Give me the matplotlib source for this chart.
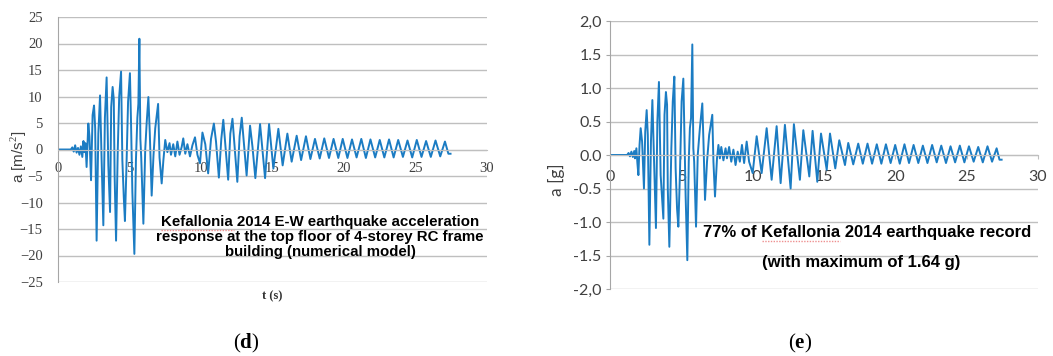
import numpy as np
import matplotlib.pyplot as plt
from matplotlib.lines import Line2D

plt.rcParams['mathtext.fontset'] = 'custom'
plt.rcParams['mathtext.rm'] = 'Liberation Serif'
plt.rcParams['mathtext.bf'] = 'Liberation Serif:bold'

# (d) numerical model response, peaks/troughs [s], [m/s2]
t_d = [0.0, 0.9, 1.0, 1.1, 1.2, 1.3, 1.4, 1.5, 1.6, 1.7,
       1.78, 1.85, 1.92, 2.0, 2.12, 2.2, 2.31, 2.42, 2.52, 2.6,
       2.7, 2.82, 2.94, 3.05, 3.17, 3.28, 3.4, 3.52, 3.64, 3.72,
       3.82, 3.9, 3.96, 4.06, 4.18, 4.28, 4.41, 4.5, 4.6, 4.68,
       4.78, 4.9, 5.03, 5.1, 5.2, 5.34, 5.45, 5.55, 5.62, 5.69,
       5.76, 5.82, 5.97, 6.1, 6.2, 6.32, 6.42, 6.55, 6.68, 6.8,
       7.0, 7.1, 7.25, 7.37, 7.5, 7.65, 7.8, 7.9, 8.06, 8.2,
       8.35, 8.5, 8.65, 8.76, 8.9, 9.05, 9.23, 9.4, 9.58, 9.75,
       9.93, 10.1, 10.3, 10.5, 10.7, 10.9, 11.05, 11.25, 11.42, 11.56,
       11.9, 12.05, 12.2, 12.54, 12.7, 12.85, 13.19, 13.43, 13.6, 13.8,
       14.13, 14.48, 14.76, 15.06, 15.41, 15.71, 16.04, 16.34, 16.69, 17.0,
       17.34, 17.65, 17.97, 18.3, 18.62, 18.95, 19.27, 19.6, 19.91, 20.24,
       20.56, 20.88, 21.21, 21.53, 21.85, 22.18, 22.5, 22.82, 23.15, 23.47,
       23.79, 24.12, 24.44, 24.77, 25.09, 25.42, 25.74, 26.07, 26.4, 26.73,
       27.06, 27.3, 27.45]
acc_d = [0, 0, 0.4, -0.4, 0.8, -0.6, 0.3, -1.0, 0.6, -1.4,
         1.6, -0.5, 1.2, -3.3, 4.9, 2.5, -5.8, 6.5, 8.3, 4.0,
         -17.2, 3.0, 10.2, -2.0, -14.3, 6.0, 13.6, -3.0, -11.8, 8.0,
         11.8, 9.5, -5.0, -17.2, 0.0, 10.0, 14.7, -2.0, -9.0, -13.5,
         -4.0, 9.0, 14.4, 6.0, -8.0, -19.7, -2.0, 6.0, 8.6, 20.9,
         2.0, -1.5, -14.0, 0.0, 5.0, 9.9, 3.0, -8.7, -1.0, 4.0,
         8.6, -1.5, -6.4, -2.0, 1.8, -0.5, 1.2, -1.0, 1.0, -1.3,
         1.5, -1.0, 0.5, 2.1, -0.8, 1.0, -1.3, 0.8, 2.3, -1.0,
         -2.6, 3.2, 1.0, -4.5, 2.0, 4.9, 1.5, -5.3, 2.0, 5.6,
         -5.7, 3.0, 5.8, -6.1, 2.5, 6.0, -4.9, 4.5, 0.5, -5.4,
         4.8, -5.4, 4.8, -3.6, 3.9, -3.0, 3.0, -2.3, 2.6, -2.0,
         2.5, -1.8, 2.0, -1.7, 2.1, -1.6, 2.0, -1.6, 2.0, -1.6,
         1.9, -1.5, 2.0, -1.6, 1.9, -1.5, 1.8, -1.5, 1.9, -1.5,
         1.8, -1.4, 1.7, -1.5, 1.8, -1.4, 1.6, -1.4, 1.7, -1.3,
         1.5, -0.8, -0.8]

# (e) 77% of the record, [s], [g]
t_e = [0.0, 1.2, 1.3, 1.4, 1.5, 1.6, 1.7, 1.75, 1.85, 1.92,
       1.99, 2.07, 2.15, 2.25, 2.38, 2.47, 2.57, 2.65, 2.76, 2.87,
       2.97, 3.1, 3.22, 3.32, 3.43, 3.55, 3.74, 3.82, 3.92, 4.0,
       4.05, 4.16, 4.3, 4.4, 4.51, 4.6, 4.7, 4.79, 4.9, 5.02,
       5.14, 5.22, 5.3, 5.42, 5.52, 5.6, 5.68, 5.77, 5.84, 5.9,
       6.03, 6.15, 6.3, 6.47, 6.55, 6.66, 6.8, 6.95, 7.17, 7.25,
       7.36, 7.5, 7.6, 7.7, 7.8, 7.95, 8.1, 8.2, 8.35, 8.5,
       8.65, 8.8, 8.95, 9.1, 9.25, 9.4, 9.58, 9.75, 10.0, 10.28,
       10.63, 10.98, 11.33, 11.68, 11.96, 12.26, 12.66, 12.89, 13.31, 13.55,
       13.97, 14.2, 14.53, 14.79, 15.19, 15.42, 15.79, 16.07, 16.47, 16.7,
       17.05, 17.4, 17.72, 18.05, 18.37, 18.7, 19.02, 19.34, 19.67, 19.99,
       20.31, 20.64, 20.96, 21.28, 21.61, 21.93, 22.25, 22.58, 22.9, 23.22,
       23.55, 23.87, 24.19, 24.52, 24.84, 25.16, 25.49, 25.81, 26.13, 26.46,
       26.78, 27.1, 27.3, 27.45]
acc_e = [0, 0, 0.03, -0.02, 0.05, -0.03, 0.06, -0.05, 0.1, -0.12,
         -0.3, 0.15, 0.4, 0.2, -0.5, 0.35, 0.67, 0.3, -1.34, 0.2,
         0.82, -0.2, -1.09, 0.5, 1.09, -0.3, -0.95, 0.6, 0.94, 0.75,
         -0.5, -1.37, 0.1, 0.8, 1.17, -0.2, -0.8, -1.07, -0.3, 0.8,
         1.14, 0.3, -0.6, -1.57, -0.1, 0.4, 0.55, 1.65, 0.1, -0.1,
         -1.07, 0.0, 0.4, 0.77, 0.2, -0.67, -0.1, 0.3, 0.6, -0.1,
         -0.62, -0.05, 0.15, -0.05, 0.12, -0.08, 0.1, -0.05, 0.12, -0.1,
         0.08, -0.15, 0.05, -0.1, 0.15, -0.12, 0.2, -0.1, -0.27, 0.28,
         -0.27, 0.4, -0.37, 0.43, -0.42, 0.45, -0.5, 0.46, -0.37, 0.37,
         -0.32, 0.36, -0.4, 0.32, -0.22, 0.32, -0.2, 0.22, -0.15, 0.18,
         -0.14, 0.17, -0.13, 0.17, -0.13, 0.16, -0.13, 0.16, -0.12, 0.15,
         -0.13, 0.16, -0.12, 0.15, -0.12, 0.14, -0.12, 0.15, -0.11, 0.14,
         -0.12, 0.13, -0.11, 0.14, -0.11, 0.13, -0.1, 0.12, -0.11, 0.13,
         -0.1, 0.1, -0.07, -0.07]

x_ticks = [0, 5, 10, 15, 20, 25, 30]
y_ticks_d = [-25, -20, -15, -10, -5, 0, 5, 10, 15, 20, 25]
y_ticks_e = [-2.0, -1.5, -1.0, -0.5, 0.0, 0.5, 1.0, 1.5, 2.0]
y_labels_e = ['-2,0', '-1.5', '-1.0', '-0.5', '0.0', '0.5', '1.0', '1.5', '2,0']

W, H = 1053, 356
blue = '#1b7cc3'
grid = '#bfbfbf'

fig = plt.figure(figsize=(W / 100, H / 100), dpi=100)


def fx(x):
    return x / W


def fy(y):
    return 1 - y / H


def style(ax, ylim, yt):
    ax.set_xlim(0, 30)
    ax.set_ylim(*ylim)
    ax.set_xticks(x_ticks)
    ax.set_yticks(yt)
    ax.grid(axis='y', color=grid, lw=1.0)
    ax.set_axisbelow(True)
    ax.spines['top'].set_visible(False)
    ax.spines['right'].set_visible(False)
    ax.spines['bottom'].set_position(('data', 0))
    ax.spines['bottom'].set_color(grid)
    ax.spines['left'].set_color('#a6a6a6')


def squiggle(x0, x1, y):
    # spell-check underline seen under "Kefallonia"
    fig.add_artist(Line2D([fx(x0), fx(x1)], [fy(y), fy(y)], color='#ee9090',
                          lw=1.0, ls=(0, (1, 1)), zorder=5))


# (d)
ax1 = fig.add_axes([fx(58), fy(282), fx(487 - 58), (282 - 17) / H])
ax1.plot(t_d, acc_d, color=blue, lw=1.4)
style(ax1, (-25, 25), y_ticks_d)
ax1.tick_params(axis='x', length=0, pad=9, labelsize=10.5, labelcolor='#404040')
ax1.tick_params(axis='y', length=0, pad=11, labelsize=10.5, labelcolor='#404040')
for lab in ax1.get_xticklabels() + ax1.get_yticklabels():
    lab.set_fontfamily('Liberation Serif')

fig.text(fx(19), fy(157), 'a [m/s$^2$]', rotation=90, ha='center', va='center',
         fontsize=11, family='Liberation Sans', color='#404040')
fig.text(fx(320), fy(237), 'Kefallonia 2014 E-W earthquake acceleration\n'
         'response at the top floor of 4-storey RC frame\n'
         'building (numerical model)', ha='center', va='center',
         fontsize=10.8, fontweight='bold', family='Liberation Sans',
         linespacing=1.05)
squiggle(161, 234, 229.5)
fig.text(fx(272), fy(296), 't (s)', ha='center', va='center', fontsize=9,
         fontweight='bold', family='Liberation Serif', color='#333333')
fig.text(fx(246), fy(343), r'($\mathbf{d}$)', ha='center', va='center',
         fontsize=15, family='Liberation Serif')

# (e)
ax2 = fig.add_axes([fx(610), fy(289), fx(1038 - 610), (289 - 21) / H])
ax2.plot(t_e, acc_e, color=blue, lw=1.4)
style(ax2, (-2.0, 2.0), y_ticks_e)
ax2.set_yticklabels(y_labels_e)
ax2.tick_params(axis='x', length=3, color=grid, pad=8, labelsize=11.5,
                labelcolor='#404040')
ax2.tick_params(axis='y', length=3, color='#a6a6a6', pad=3, labelsize=11.5,
                labelcolor='#404040')
for lab in ax2.get_xticklabels() + ax2.get_yticklabels():
    lab.set_fontfamily('Lato')

fig.text(fx(556), fy(180), 'a [g]', rotation=90, ha='center', va='center',
         fontsize=12.5, family='Lato', color='#404040')
fig.text(fx(867), fy(232), '77% of Kefallonia 2014 earthquake record',
         ha='center', va='center', fontsize=12, fontweight='bold',
         family='Liberation Sans')
squiggle(762, 840, 241)
fig.text(fx(861), fy(262), '(with maximum of 1.64 g)',
         ha='center', va='center', fontsize=12, fontweight='bold',
         family='Liberation Sans')
fig.text(fx(800), fy(343), r'($\mathbf{e}$)', ha='center', va='center',
         fontsize=15, family='Liberation Serif')

fig.savefig('out.png', dpi=100)
